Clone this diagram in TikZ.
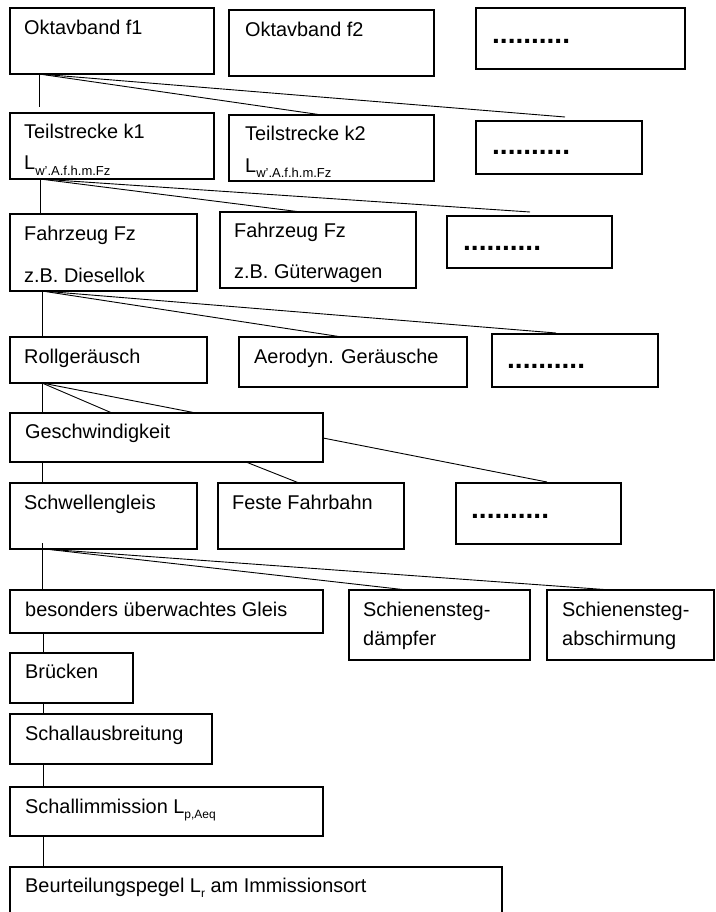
\documentclass[tikz,border=0pt]{standalone}
\usepackage{fontspec}
\setmainfont{Liberation Sans}
\usetikzlibrary{calc}
\newcommand\subtxt[2][12]{\raisebox{-0.3em}{\fontsize{#1}{#1}\selectfont #2}}
\tikzset{
  box/.style={draw, line width=1.4pt, inner sep=0pt, outer sep=0pt, anchor=north west},
  txt/.style={inner sep=0pt, anchor=base west, font=\fontsize{19.9}{23}\selectfont},
  dotsx/.style={inner sep=0pt, anchor=base west, font=\fontsize{28}{28}\selectfont\bfseries},
  link/.style={line width=0.9pt}
}
\newcommand\mybox[5]{\node[box, minimum width=#4pt-#2pt, minimum height=#5pt-#3pt] (#1) at (#2,#3) {};}
\begin{document}
\begin{tikzpicture}[x=1pt,y=-1pt]
\useasboundingbox (0,0) rectangle (715,912);
% boxes
\mybox{o1}{10}{8}{214}{74}
\mybox{o2}{229}{10}{434}{76}
\mybox{o3}{476}{8}{685}{69}
\mybox{t1}{10}{113}{214}{179}
\mybox{t2}{229}{115}{434}{181}
\mybox{t3}{476}{121}{642}{174}
\mybox{f1}{10}{214}{197}{291}
\mybox{f2}{220}{212}{416}{288}
\mybox{f3}{447}{216}{612}{268}
\mybox{r1}{10}{337}{207}{383}
\mybox{r2}{239}{337}{467}{387}
\mybox{r3}{492}{334}{658}{387}
\mybox{g}{10}{413}{323}{462}
\mybox{s1}{10}{483}{197}{549}
\mybox{s2}{218}{483}{404}{549}
\mybox{s3}{456}{483}{621}{544}
\mybox{b1}{10}{590}{323}{633}
\mybox{b2}{349}{590}{530}{660}
\mybox{b3}{547}{590}{714}{660}
\mybox{br}{10}{653}{133}{703}
\mybox{sa}{10}{714}{212}{764}
\mybox{si}{10}{787}{323}{836}
\mybox{bp}{10}{867}{502}{925}
% texts
\node[txt] (o1t) at (24,35) {Oktavband f1};
\node[txt] (o2t) at (245,37) {Oktavband f2};
\node[dotsx] (o3t) at (492,44) {..........};
\node[txt] (t1t) at (24,139) {Teilstrecke k1};
\node[txt] (t1l) at (24,170) {L\subtxt[13]{w'.A.f.h.m.Fz}};
\node[txt] (t2t) at (245,141) {Teilstrecke k2};
\node[txt] (t2l) at (245,172) {L\subtxt[13]{w'.A.f.h.m.Fz}};
\node[dotsx] (t3t) at (492,155) {..........};
\node[txt] (f1t) at (24,240) {Fahrzeug Fz};
\node[txt] (f1u) at (24,282) {z.B. Diesellok};
\node[txt] (f2t) at (234,237) {Fahrzeug Fz};
\node[txt] (f2u) at (234,278) {z.B. Güterwagen};
\node[dotsx] (f3t) at (463,250) {..........};
\node[txt] (r1t) at (24,363) {Rollgeräusch};
\node[txt] (r2t) at (254,363) {Aerodyn. Geräusche};
\node[dotsx] (r3t) at (507,368) {..........};
\node[txt] (gt) at (25,438) {Geschwindigkeit};
\node[txt] (s1t) at (24,509) {Schwellengleis};
\node[txt] (s2t) at (232,509) {Feste Fahrbahn};
\node[dotsx] (s3t) at (471,518) {..........};
\node[txt] (b1t) at (25,616) {besonders überwachtes Gleis};
\node[txt] (b2t) at (363,616) {Schienensteg-};
\node[txt] (b2u) at (363,645) {dämpfer};
\node[txt] (b3t) at (562,616) {Schienensteg-};
\node[txt] (b3u) at (562,645) {abschirmung};
\node[txt] (brt) at (25,678) {Brücken};
\node[txt] (sat) at (25,740) {Schallausbreitung};
\node[txt] (sit) at (25,813) {Schallimmission L\subtxt{p,Aeq}};
\node[txt] (bpt) at (25,892) {Beurteilungspegel L\subtxt{r} am Immissionsort};
% connectors
\draw[link] ($(o1.south west)+(29,0)$) -- ($(t1.north west)+(29,-6)$);
\draw[link] ($(o1.south west)+(29,0)$) -- ($(t2.north west)+(93,0)$);
\draw[link] ($(o1.south west)+(29,0)$) -- ($(t3.north west)+(89,-4)$);
\draw[link] ($(t1.south west)+(30,0)$) -- ($(f1.north west)+(30,0)$);
\draw[link] ($(t1.south west)+(30,0)$) -- ($(f2.north west)+(81,0)$);
\draw[link] ($(t1.south west)+(30,0)$) -- ($(f3.north west)+(83,-4)$);
\draw[link] ($(f1.south west)+(32,0)$) -- ($(r1.north west)+(32,0)$);
\draw[link] ($(f1.south west)+(32,0)$) -- ($(r2.north west)+(103,0)$);
\draw[link] ($(f1.south west)+(32,0)$) -- ($(r3.north west)+(64,-1)$);
\draw[link] ($(r1.south west)+(32,0)$) -- ($(g.north west)+(32,0)$);
\draw[link] ($(r1.south west)+(32,0)$) -- ($(g.north west)+(102,0)$);
\draw[link] ($(r1.south west)+(32,0)$) -- ($(g.north west)+(186,0)$);
\draw[link] ($(g.south west)+(32,0)$) -- ($(s1.north west)+(32,0)$);
\draw[link] ($(g.south west)+(236,0)$) -- ($(s2.north west)+(81,0)$);
\draw[link] ($(g.north east)+(0,25)$) -- ($(s3.north west)+(91,-1)$);
\draw[link] ($(s1.south west)+(32,-6)$) -- ($(b1.north west)+(32,0)$);
\draw[link] ($(s1.south west)+(35,0)$) -- ($(b2.north west)+(58,0)$);
\draw[link] ($(s1.south west)+(35,0)$) -- ($(b3.north west)+(64,0)$);
\draw[link] ($(b1.south west)+(33,0)$) -- ($(br.north west)+(33,0)$);
\draw[link] ($(br.south west)+(33,0)$) -- ($(sa.north west)+(33,0)$);
\draw[link] ($(sa.south west)+(33,0)$) -- ($(si.north west)+(33,0)$);
\draw[link] ($(si.south west)+(33,0)$) -- ($(bp.north west)+(33,0)$);
\end{tikzpicture}
\end{document}
